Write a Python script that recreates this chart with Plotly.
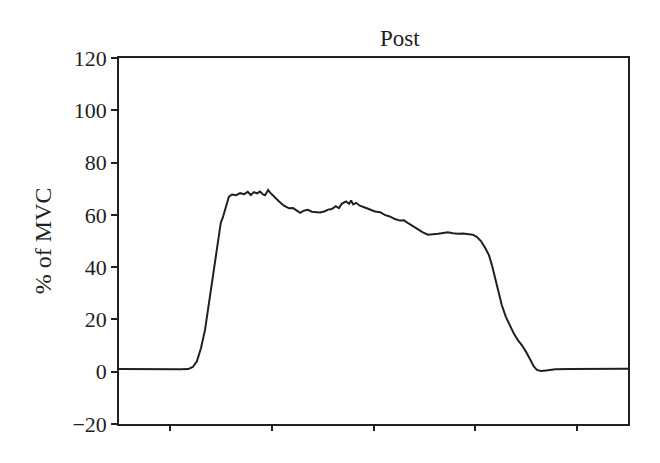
import plotly.graph_objects as go

# time (s) and force (% of MVC)
time_s = [0, 0.41, 0.81, 1.20, 1.36, 1.45, 1.53, 1.61, 1.69, 1.77, 1.87, 1.95, 2.00, 2.04,
          2.10, 2.16, 2.22, 2.30, 2.38, 2.46, 2.53, 2.59, 2.65, 2.71, 2.77, 2.83, 2.87, 2.93,
          2.97, 3.05, 3.14, 3.24, 3.34, 3.42, 3.50, 3.56, 3.63, 3.71, 3.79, 3.87, 3.95, 4.03,
          4.11, 4.18, 4.26, 4.32, 4.38, 4.46, 4.52, 4.56, 4.60, 4.66, 4.73, 4.83, 4.93, 5.03,
          5.13, 5.23, 5.32, 5.42, 5.52, 5.60, 5.68, 5.78, 5.87, 5.97, 6.07, 6.17, 6.27, 6.37,
          6.46, 6.56, 6.66, 6.76, 6.86, 6.95, 7.03, 7.11, 7.19, 7.27, 7.33, 7.39, 7.45, 7.52,
          7.60, 7.68, 7.76, 7.84, 7.92, 8.00, 8.07, 8.15, 8.21, 8.29, 8.39, 8.57, 8.86, 9.25,
          9.65, 10.0]
pct_mvc = [1.0, 0.9, 1.0, 0.9, 1.0, 1.8, 4, 9, 16, 27, 39, 50, 57, 59,
           63, 67, 67.8, 67.5, 68.3, 67.9, 68.8, 67.6, 68.7, 68.2, 68.9, 67.8, 67.5, 69.5,
           68.5, 66.8, 65.2, 63.5, 62.5, 62.6, 61.6, 60.8, 61.6, 61.9, 61.2, 61.0, 60.9, 61.3,
           62.0, 62.2, 63.3, 62.6, 64.3, 65.1, 64.2, 65.5, 64.0, 64.6, 63.5, 62.8, 62.0, 61.3,
           61.0, 59.9, 59.4, 58.4, 57.8, 57.9, 56.8, 55.5, 54.4, 53.3, 52.4, 52.5, 52.8, 53.1,
           53.3, 53.0, 52.8, 52.9, 52.6, 52.4, 51.6, 50.0, 47.5, 44.5, 40.5, 35.5, 31.0, 25.5,
           21.0, 17.5, 14.5, 12.0, 10.0, 7.5, 5.0, 2.0, 0.7, 0.3, 0.5, 0.9, 1.0, 1.0,
           1.1, 1.1]

x_ticks = [1, 3, 5, 7, 9]
y_ticks = [-20, 0, 20, 40, 60, 80, 100, 120]

ink = "#231f20"
font_family = "Liberation Serif, Times New Roman, serif"

fig = go.Figure()
fig.add_trace(go.Scatter(x=time_s, y=pct_mvc, mode="lines",
                         line=dict(color=ink, width=2), showlegend=False))

fig.update_layout(
    width=660, height=463,
    margin=dict(l=119, r=32, t=58, b=39),
    paper_bgcolor="white", plot_bgcolor="white",
    font=dict(family=font_family, size=22, color=ink),
    xaxis=dict(range=[0, 10], tickvals=x_ticks, showticklabels=False,
               ticks="outside", ticklen=5, tickwidth=1.5, tickcolor=ink,
               showline=True, linecolor=ink, linewidth=1.5, mirror=True,
               showgrid=False, zeroline=False),
    yaxis=dict(range=[-20, 120], tickvals=y_ticks,
               ticktext=["\u221220"] + [str(v) for v in y_ticks[1:]],
               ticks="outside", ticklen=6, tickwidth=1.5, tickcolor=ink,
               showline=True, linecolor=ink, linewidth=1.5, mirror=True,
               showgrid=False, zeroline=False,
               tickfont=dict(family=font_family, size=22, color=ink)),
    annotations=[
        dict(text="Post", x=0.552, y=1.053, xref="paper", yref="paper",
             xanchor="center", yanchor="middle", showarrow=False,
             font=dict(family=font_family, size=23, color=ink)),
        dict(text="% of MVC", x=-0.149, y=0.5, xref="paper", yref="paper",
             xanchor="center", yanchor="middle", showarrow=False, textangle=-90,
             font=dict(family=font_family, size=24, color=ink)),
    ],
)

fig.write_html("out.html", config={"displayModeBar": False},
               post_script="document.body.style.margin='0';")
